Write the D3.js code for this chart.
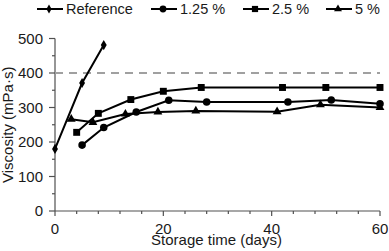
<!DOCTYPE html>
<html>
<head>
<meta charset="utf-8">
<script src="https://cdn.jsdelivr.net/npm/d3@7"></script>
<style>
  body { margin: 0; background: #fff; }
  text { font-family: "Liberation Sans", Arial, sans-serif; fill: #1a1a1a; }
</style>
</head>
<body>
<div id="chart"></div>
<script>
// Data
const seriesNames = ["Reference", "1.25 %", "2.5 %", "5 %"];
const refDays = [0, 5, 9];
const refVisc = [180, 371, 481];
const lowDays = [5, 9, 15, 21, 28, 43, 51, 60];
const lowVisc = [191, 242, 287, 321, 316, 316, 322, 311];
const midDays = [4, 8, 14, 20, 27, 42, 50, 60];
const midVisc = [228, 283, 323, 347, 358, 358, 358, 358];
const highDays = [3, 7, 13, 19, 26, 41, 49, 60];
const highVisc = [266, 257, 281, 287, 290, 288, 308, 300];
const limit = 400;
const xTicks = [0, 20, 40, 60];
const yTicks = [0, 100, 200, 300, 400, 500];

const W = 389, H = 251;
const x = d3.scaleLinear().domain([0, 60]).range([55, 380]);
const y = d3.scaleLinear().domain([0, 500]).range([211, 38.5]);

const svg = d3.select("#chart").append("svg")
    .attr("width", W).attr("height", H);

const axisColor = "#505050";

// Axes
const xAxis = svg.append("g").attr("transform", `translate(0,${y(0)})`);
xAxis.append("line").attr("x1", x(0)).attr("x2", x(60))
    .attr("stroke", axisColor).attr("stroke-width", 1.2);
xAxis.selectAll(".minor").data(d3.range(0, 61, 4)).join("line")
    .attr("x1", d => x(d)).attr("x2", d => x(d))
    .attr("y1", 0).attr("y2", d => d % 20 === 0 ? 5 : 3)
    .attr("stroke", axisColor).attr("stroke-width", 1.2);
xAxis.selectAll("text").data(xTicks).join("text")
    .attr("x", d => x(d)).attr("y", 23)
    .attr("text-anchor", "middle").attr("font-size", 15)
    .text(d => d);

const yAxis = svg.append("g").attr("transform", `translate(${x(0)},0)`);
yAxis.append("line").attr("y1", y(0)).attr("y2", y(500))
    .attr("stroke", axisColor).attr("stroke-width", 1.2);
yAxis.selectAll(".minor").data(d3.range(0, 501, 50)).join("line")
    .attr("y1", d => y(d)).attr("y2", d => y(d))
    .attr("x1", d => d % 100 === 0 ? -6 : -3).attr("x2", 0)
    .attr("stroke", axisColor).attr("stroke-width", 1.2);
yAxis.selectAll("text").data(yTicks).join("text")
    .attr("x", -12).attr("y", d => y(d)).attr("dy", "0.35em")
    .attr("text-anchor", "end").attr("font-size", 15)
    .text(d => d);

// Axis labels
svg.append("text")
    .attr("x", (x(0) + x(60)) / 2 - 1).attr("y", 245)
    .attr("text-anchor", "middle").attr("font-size", 15)
    .text("Storage time (days)");
svg.append("text")
    .attr("transform", `translate(13,${(y(0) + y(500)) / 2}) rotate(-90)`)
    .attr("text-anchor", "middle").attr("font-size", 15)
    .text("Viscosity (mPa·s)");

// Limit line
svg.append("line")
    .attr("x1", x(0)).attr("x2", x(60))
    .attr("y1", y(limit)).attr("y2", y(limit))
    .attr("stroke", "#a0a0a0").attr("stroke-width", 2)
    .attr("stroke-dasharray", "8,6");

// Series
const series = [
    {name: seriesNames[0], days: refDays, visc: refVisc, sym: d3.symbolDiamond, size: 30},
    {name: seriesNames[1], days: lowDays, visc: lowVisc, sym: d3.symbolCircle, size: 45},
    {name: seriesNames[2], days: midDays, visc: midVisc, sym: d3.symbolSquare, size: 48},
    {name: seriesNames[3], days: highDays, visc: highVisc, sym: d3.symbolTriangle, size: 34}
];

const line = d3.line().x(d => x(d[0])).y(d => y(d[1]));

series.forEach(s => {
    const pts = s.days.map((d, i) => [d, s.visc[i]]);
    svg.append("path").datum(pts)
        .attr("d", line).attr("fill", "none")
        .attr("stroke", "#000").attr("stroke-width", 2);
    svg.selectAll(null).data(pts).join("path")
        .attr("transform", d => `translate(${x(d[0])},${y(d[1])})`)
        .attr("d", d3.symbol().type(s.sym).size(s.size))
        .attr("fill", "#000");
});

// Legend
const legendPos = [37, 151, 243, 326];
const legend = svg.append("g").attr("transform", "translate(0,9)");
series.forEach((s, i) => {
    const g = legend.append("g").attr("transform", `translate(${legendPos[i]},0)`);
    g.append("line").attr("x1", 0).attr("x2", 26)
        .attr("stroke", "#000").attr("stroke-width", 2);
    g.append("path").attr("transform", "translate(12,0)")
        .attr("d", d3.symbol().type(s.sym).size(s.size * 0.8))
        .attr("fill", "#000");
    g.append("text").attr("x", 29).attr("dy", "0.35em")
        .attr("font-size", 14.5).text(s.name);
});
</script>
</body>
</html>
